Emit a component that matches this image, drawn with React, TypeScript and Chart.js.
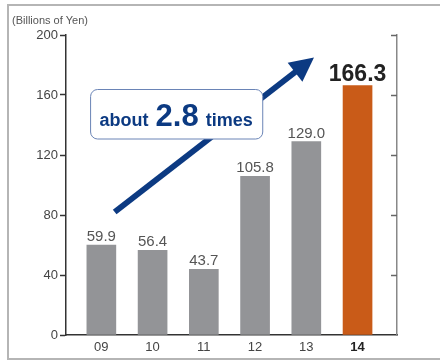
import { useEffect, useRef } from 'react';
import { Chart, registerables } from 'chart.js';

Chart.register(...registerables);

// Fiscal years and sales (billions of yen)
const years = ['09', '10', '11', '12', '13', '14'];
const sales = [59.9, 56.4, 43.7, 105.8, 129.0, 166.3];
const yTickValues = [0, 40, 80, 120, 160, 200];
const unitLabel = '(Billions of Yen)';
const growthParts = ['about', '2.8', 'times'];

// Growth annotation, expressed in scale units (x = year index, y = billions of yen)
const arrowFrom = { x: 0.26, y: 82 };
const arrowTo = { x: 4.15, y: 185 };
const calloutBox = { x0: -0.22, x1: 3.14, yTop: 164, yBottom: 131 };

const FONT = '"Liberation Sans", Arial, Helvetica, sans-serif';
const GRAY = '#939497';
const ORANGE = '#c95b18';
const NAVY = '#0c3a82';
const LAST = sales.length - 1;

const decorations = {
  id: 'decorations',
  afterDatasetsDraw(chart: any) {
    const { ctx, scales } = chart;
    const x = scales.x;
    const y = scales.y;
    ctx.save();

    // unit caption
    ctx.fillStyle = '#555';
    ctx.font = `11px ${FONT}`;
    ctx.textAlign = 'left';
    ctx.textBaseline = 'alphabetic';
    ctx.fillText(unitLabel, 12, 24);

    // inward ticks on the right axis
    const rx = chart.chartArea.right;
    ctx.strokeStyle = '#666';
    ctx.lineWidth = 1.5;
    yTickValues.slice(1).forEach((v) => {
      const py = Math.round(y.getPixelForValue(v)) + 0.5;
      ctx.beginPath();
      ctx.moveTo(rx - 6, py);
      ctx.lineTo(rx, py);
      ctx.stroke();
    });

    // value labels above bars
    const meta = chart.getDatasetMeta(0);
    meta.data.forEach((bar: any, i: number) => {
      ctx.textAlign = 'center';
      ctx.textBaseline = 'alphabetic';
      if (i === LAST) {
        ctx.fillStyle = '#222';
        ctx.font = `bold 23px ${FONT}`;
        ctx.fillText(sales[i].toFixed(1), bar.x, bar.y - 5);
      } else {
        ctx.fillStyle = '#555';
        ctx.font = `15px ${FONT}`;
        ctx.fillText(sales[i].toFixed(1), bar.x, bar.y - 4);
      }
    });

    // growth arrow
    const sx = x.getPixelForValue(arrowFrom.x);
    const sy = y.getPixelForValue(arrowFrom.y);
    const tx = x.getPixelForValue(arrowTo.x);
    const ty = y.getPixelForValue(arrowTo.y);
    const len = Math.hypot(tx - sx, ty - sy);
    const ux = (tx - sx) / len;
    const uy = (ty - sy) / len;
    const headLen = 24;
    const headHalf = 12;
    const bx = tx - ux * headLen;
    const by = ty - uy * headLen;
    ctx.strokeStyle = NAVY;
    ctx.fillStyle = NAVY;
    ctx.lineWidth = 6;
    ctx.lineCap = 'butt';
    ctx.beginPath();
    ctx.moveTo(sx, sy);
    ctx.lineTo(bx + ux * 4, by + uy * 4);
    ctx.stroke();
    ctx.beginPath();
    ctx.moveTo(tx, ty);
    ctx.lineTo(bx - uy * headHalf, by + ux * headHalf);
    ctx.lineTo(bx + uy * headHalf, by - ux * headHalf);
    ctx.closePath();
    ctx.fill();

    // callout box
    const l = x.getPixelForValue(calloutBox.x0);
    const r = x.getPixelForValue(calloutBox.x1);
    const t = y.getPixelForValue(calloutBox.yTop);
    const b = y.getPixelForValue(calloutBox.yBottom);
    ctx.beginPath();
    ctx.roundRect(l + 0.5, t + 0.5, r - l, b - t, 7);
    ctx.fillStyle = '#fff';
    ctx.fill();
    ctx.strokeStyle = '#6a84b6';
    ctx.lineWidth = 1;
    ctx.stroke();

    // callout text
    const small = `bold 18px ${FONT}`;
    const big = `bold 31px ${FONT}`;
    ctx.font = small;
    const w0 = ctx.measureText(growthParts[0]).width;
    const w2 = ctx.measureText(growthParts[2]).width;
    ctx.font = big;
    const w1 = ctx.measureText(growthParts[1]).width;
    const gap = 7;
    const total = w0 + w1 + w2 + gap * 2;
    let cx = (l + r) / 2 - total / 2;
    const base = b - 13;
    ctx.fillStyle = NAVY;
    ctx.textAlign = 'left';
    ctx.font = small;
    ctx.fillText(growthParts[0], cx, base);
    cx += w0 + gap;
    ctx.font = big;
    ctx.fillText(growthParts[1], cx, base);
    cx += w1 + gap;
    ctx.font = small;
    ctx.fillText(growthParts[2], cx, base);

    ctx.restore();
  },
};

export default function App() {
  const ref = useRef<HTMLCanvasElement>(null);

  useEffect(() => {
    const chart = new Chart(ref.current!, {
      type: 'bar',
      data: {
        datasets: [
          {
            data: sales.map((v, i) => ({ x: i, y: v })),
            backgroundColor: sales.map((_, i) => (i === LAST ? ORANGE : GRAY)),
            barThickness: 29,
          },
        ],
      },
      options: {
        animation: false,
        responsive: false,
        layout: { padding: { top: 35, right: 43, bottom: 0, left: 0 } },
        plugins: { legend: { display: false }, tooltip: { enabled: false } },
        scales: {
          x: {
            type: 'linear',
            position: 'bottom',
            offset: false,
            min: -0.69,
            max: 5.77,
            afterBuildTicks: (s: any) => {
              s.ticks = years.map((_, i) => ({ value: i }));
            },
            afterFit: (s: any) => {
              s.height = 25;
            },
            border: { display: true, color: '#333', width: 1.5 },
            grid: { display: true, drawOnChartArea: false, drawTicks: false },
            ticks: {
              autoSkip: false,
              maxRotation: 0,
              padding: 5,
              callback: (v: any) => years[Math.round(Number(v))],
              color: (c: any) => (c.index === LAST ? '#222' : '#444'),
              font: (c: any) => ({
                family: FONT,
                size: 13,
                weight: c.index === LAST ? 'bold' : 'normal',
              }),
            },
          },
          y: {
            position: 'left',
            min: 0,
            max: 200,
            afterBuildTicks: (s: any) => {
              s.ticks = yTickValues.map((v) => ({ value: v }));
            },
            afterFit: (s: any) => {
              s.width = 66;
            },
            border: { display: true, color: '#333', width: 1.5 },
            grid: {
              drawOnChartArea: false,
              drawTicks: true,
              tickLength: 6,
              tickColor: '#333',
              tickWidth: 1.5,
            },
            ticks: {
              padding: 2,
              color: '#444',
              font: { family: FONT, size: 13 },
            },
          },
          y2: {
            position: 'right',
            min: 0,
            max: 200,
            afterFit: (s: any) => {
              s.width = 0;
            },
            border: { display: true, color: '#888', width: 1.5 },
            grid: { drawOnChartArea: false, drawTicks: false },
            ticks: { display: false },
          },
        },
      },
      plugins: [decorations],
    });
    return () => chart.destroy();
  }, []);

  return (
    <div
      style={{
        position: 'absolute',
        left: 0,
        top: 0,
        width: 440,
        height: 360,
        overflow: 'hidden',
        background: '#fff',
      }}
    >
      <div
        style={{
          position: 'absolute',
          left: 7,
          top: 4,
          width: 433,
          height: 356,
          boxSizing: 'border-box',
          borderTop: '2px solid #b5b5b5',
          borderLeft: '2px solid #b5b5b5',
          borderBottom: '2px solid #b5b5b5',
        }}
      />
      <canvas
        ref={ref}
        width={440}
        height={360}
        style={{ position: 'absolute', left: 0, top: 0, width: 440, height: 360 }}
      />
    </div>
  );
}
